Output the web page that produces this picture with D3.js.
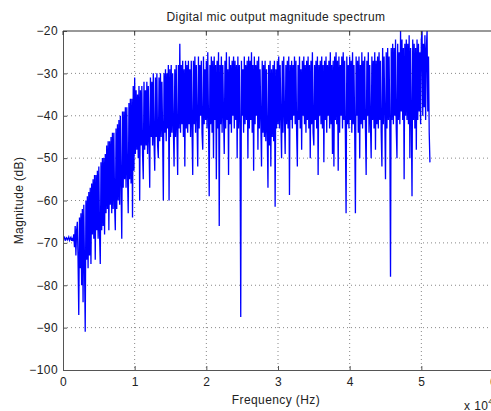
<!DOCTYPE html>
<html>
<head>
<meta charset="utf-8">
<script src="https://cdn.jsdelivr.net/npm/d3@7"></script>
<style>
    body { margin: 0; background: #fff; }
    text { font-family: "Liberation Sans", Arial, sans-serif; fill: #222; letter-spacing: 0.4px; }
</style>
</head>
<body>
<svg></svg>
<script>
const size = {w: 491, h: 411};
const plot = {l: 63, t: 31, r: 493, b: 370};

// frequency axis is in units of 10^4 Hz, one bin every 0.01
const binStep = 0.01;
const xTicks = [0, 1, 2, 3, 4, 5, 6];
const yTicks = [-100, -90, -80, -70, -60, -50, -40, -30, -20];

// magnitude (dB), 20 bins per row (0.2 x 10^4 Hz)
const magRows = [
    [-69,-69,-68.5,-69.5,-69,-68.8,-69.3,-69,-68.6,-69.4,-69,-68.7,-69.5,-68.8,-69.6,-68,-71,-66,-73,-67],
    [-65,-74,-87,-64,-76,-63,-80,-62,-84,-61,-75,-91,-60,-74,-59,-76,-58,-73,-57,-75],
    [-56,-68,-55,-69,-54,-74,-54,-67,-53,-69,-52,-68,-75,-51,-67,-50,-66,-50,-68,-49],
    [-63,-47,-62,-46,-67,-46,-61,-45,-63,-44,-62,-44,-61,-67,-43,-62,-42,-60,-41,-61],
    [-40,-56,-69,-39,-57,-39,-55,-38,-57,-38,-54,-63,-37,-55,-36,-56,-36,-64,-33,-53],
    [-31,-49,-34,-48,-35,-50,-33,-60,-34,-47,-33,-49,-55,-32,-48,-34,-47,-32,-49,-33],
    [-46,-57,-31,-45,-32,-47,-30,-46,-53,-31,-45,-30,-47,-50,-31,-46,-30,-45,-32,-44],
    [-60,-30,-44,-29,-46,-30,-43,-28,-60,-29,-45,-28,-44,-30,-43,-52,-29,-45,-28,-44],
    [-54,-28,-43,-23,-44,-28,-42,-27,-45,-29,-52,-27,-43,-28,-44,-27,-42,-29,-45,-27],
    [-43,-54,-27,-42,-26,-44,-28,-41,-52,-26,-43,-28,-40,-27,-44,-48,-26,-42,-29,-41],
    [-27,-43,-25,-41,-59,-28,-42,-26,-44,-27,-50,-26,-41,-28,-55,-27,-43,-25,-66,-28],
    [-42,-26,-44,-28,-40,-49,-27,-43,-25,-41,-29,-54,-26,-42,-28,-44,-27,-40,-26,-43],
    [-27,-41,-28,-50,-26,-43,-28,-42,-87.5,-27,-40,-29,-44,-26,-42,-28,-41,-27,-50,-26],
    [-43,-27,-41,-25,-44,-28,-53,-26,-42,-28,-40,-27,-48,-26,-43,-29,-41,-52,-27,-44],
    [-28,-45,-27,-46,-29,-44,-57,-28,-47,-27,-52,-29,-45,-28,-46,-27,-61.5,-29,-43,-27],
    [-42,-26,-43,-28,-41,-50,-27,-44,-26,-40,-49,-28,-42,-27,-43,-26,-58.7,-28,-41,-27],
    [-43,-28,-40,-26,-42,-27,-44,-52,-28,-41,-26,-43,-29,-48,-27,-40,-26,-42,-28,-44],
    [-27,-41,-26,-43,-28,-50,-27,-42,-25,-44,-47,-28,-41,-27,-43,-26,-54,-28,-40,-27],
    [-42,-26,-43,-28,-51,-27,-41,-26,-44,-28,-40,-27,-43,-25,-42,-28,-49,-27,-52,-26],
    [-41,-25,-42,-27,-53,-26,-44,-28,-40,-26,-43,-25,-41,-27,-44,-63,-26,-42,-28,-43],
    [-26,-41,-27,-44,-25,-42,-28,-43,-63,-26,-40,-27,-44,-26,-50,-28,-42,-25,-43,-27],
    [-41,-26,-43,-54,-27,-40,-25,-44,-28,-42,-50,-26,-41,-27,-43,-25,-48,-27,-42,-26],
    [-43,-25,-41,-27,-44,-52,-24,-42,-26,-40,-55,-25,-43,-24,-41,-26,-42,-78,-24,-41],
    [-23,-42,-24,-40,-22,-43,-50,-23,-41,-25,-42,-20,-39,-22,-41,-24,-55,-23,-40,-22],
    [-41,-23,-42,-21,-50,-24,-40,-59,-22,-41,-23,-43,-24,-48,-22,-41,-23,-39,-25,-42],
    [-22,-20,-40,-23,-38,-21,-41,-24,-20,-39,-26,-44,-51]
];

const magnitude = magRows.flat();
const data = magnitude.map((m, i) => ({f: i * binStep, m: m}));

const svg = d3.select('svg')
    .attr('width', size.w)
    .attr('height', size.h);

let x = d3.scaleLinear().domain([0, 6]).range([plot.l, plot.r]);
let y = d3.scaleLinear().domain([-100, -20]).range([plot.b, plot.t]);

// grid
let grid = svg.append('g').classed('grid', true);
grid.selectAll('.vg')
    .data(xTicks.slice(1, -1))
    .join('line')
    .attr('x1', d => x(d)).attr('x2', d => x(d))
    .attr('y1', plot.t).attr('y2', plot.b)
    .attr('stroke', '#888')
    .attr('stroke-width', 1)
    .attr('stroke-dasharray', '1,3');
grid.selectAll('.hg')
    .data(yTicks.slice(1, -1))
    .join('line')
    .attr('x1', plot.l).attr('x2', plot.r)
    .attr('y1', d => y(d)).attr('y2', d => y(d))
    .attr('stroke', '#888')
    .attr('stroke-width', 1)
    .attr('stroke-dasharray', '1,3');

// spectrum
let line = d3.line()
    .x(d => x(d.f))
    .y(d => y(d.m));

svg.append('path')
    .datum(data)
    .attr('d', line)
    .attr('fill', 'none')
    .attr('stroke', '#0000ff')
    .attr('stroke-width', 1.3);

// axes (MATLAB style: inward ticks, box)
let xAxis = d3.axisBottom(x).tickValues(xTicks).tickSize(-4).tickPadding(7).tickFormat(d3.format('d'));
let yAxis = d3.axisLeft(y).tickValues(yTicks).tickSize(-4).tickPadding(5).tickFormat(d3.format('d'));

let gx = svg.append('g')
    .attr('transform', `translate(0,${plot.b})`)
    .call(xAxis);
let gy = svg.append('g')
    .attr('transform', `translate(${plot.l},0)`)
    .call(yAxis);

[gx, gy].forEach(g => {
    g.select('.domain').attr('stroke', '#555');
    g.selectAll('.tick line').attr('stroke', '#555');
    g.selectAll('.tick text').attr('font-size', 12).attr('fill', '#222')
        .style('font-family', '"Liberation Sans", Arial, sans-serif');
});

// top border with inward ticks
svg.append('line')
    .attr('x1', plot.l).attr('x2', plot.r)
    .attr('y1', plot.t).attr('y2', plot.t)
    .attr('stroke', '#333');
svg.selectAll('.toptick')
    .data(xTicks)
    .join('line')
    .attr('x1', d => x(d)).attr('x2', d => x(d))
    .attr('y1', plot.t).attr('y2', plot.t + 4)
    .attr('stroke', '#333');

// labels
svg.append('text')
    .attr('x', (plot.l + plot.r) / 2 - 2)
    .attr('y', 21)
    .attr('text-anchor', 'middle')
    .attr('font-size', 12)
    .text('Digital mic output magnitude spectrum');

svg.append('text')
    .attr('x', (plot.l + plot.r) / 2 - 2)
    .attr('y', 404)
    .attr('text-anchor', 'middle')
    .attr('font-size', 12)
    .text('Frequency (Hz)');

svg.append('text')
    .attr('transform', `translate(23,${(plot.t + plot.b) / 2}) rotate(-90)`)
    .attr('text-anchor', 'middle')
    .attr('font-size', 12)
    .text('Magnitude (dB)');

let expo = svg.append('text')
    .attr('x', 464)
    .attr('y', 410)
    .attr('font-size', 12);
expo.append('tspan').text('x 10');
expo.append('tspan').attr('dy', -6).attr('font-size', 8).text('4');
</script>
</body>
</html>
